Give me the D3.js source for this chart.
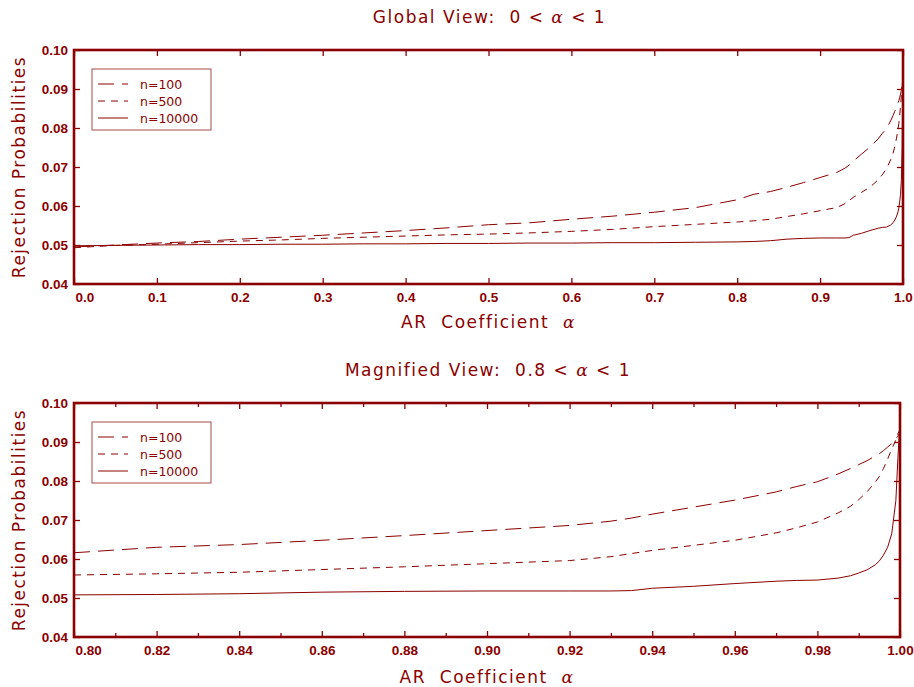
<!DOCTYPE html>
<html>
<head>
<meta charset="utf-8">
<script src="https://cdn.jsdelivr.net/npm/d3@7"></script>
<style>
  body { margin: 0; background: #fff; }
  svg { display: block; }
</style>
</head>
<body>
<svg id="chart"></svg>
<script>
// alpha grid (coarse on 0..0.8, fine near 1)
const alphas = [0, 0.05, 0.1, 0.15, 0.2, 0.25, 0.3, 0.35, 0.4, 0.45, 0.5, 0.55, 0.6, 0.65, 0.7, 0.75,
  0.80, 0.82, 0.84, 0.86, 0.88, 0.90, 0.92, 0.93, 0.935, 0.94, 0.95, 0.96, 0.97, 0.975, 0.98, 0.985,
  0.988, 0.99, 0.992, 0.994, 0.995, 0.996, 0.997, 0.998, 0.999, 0.9995, 1.0]

const n100 = [0.0495, 0.0500, 0.0505, 0.0509, 0.0515, 0.0520, 0.0525, 0.0531, 0.0537, 0.0544, 0.0552, 0.0557, 0.0566, 0.0574, 0.0584, 0.0596,
  0.0616, 0.0630, 0.0637, 0.0648, 0.0660, 0.0673, 0.0686, 0.0697, 0.0705, 0.0715, 0.0733, 0.0751, 0.0772, 0.0786, 0.0798, 0.0818,
  0.0832, 0.0842, 0.0852, 0.0864, 0.0870, 0.0878, 0.0887, 0.0896, 0.0908, 0.0915, 0.0925]

const n500 = [0.0493, 0.0499, 0.0502, 0.0506, 0.0510, 0.0513, 0.0517, 0.0520, 0.0523, 0.0526, 0.0528, 0.0531, 0.0535, 0.0540, 0.0547, 0.0553,
  0.0559, 0.0562, 0.0566, 0.0573, 0.0580, 0.0588, 0.0596, 0.0606, 0.0614, 0.0622, 0.0635, 0.0648, 0.0667, 0.0680, 0.0695, 0.0718,
  0.0735, 0.0752, 0.0772, 0.0797, 0.0812, 0.0832, 0.0856, 0.0882, 0.0905, 0.0922, 0.0930]

const n10000 = [0.0498, 0.0499, 0.0500, 0.0501, 0.0501, 0.0502, 0.0502, 0.0503, 0.0503, 0.0504, 0.0504, 0.0505, 0.0505, 0.0506, 0.0506, 0.0507,
  0.0508, 0.0509, 0.0511, 0.0515, 0.0517, 0.0518, 0.0518, 0.0518, 0.0519, 0.0525, 0.0530, 0.0537, 0.0543, 0.0545, 0.0546, 0.0551,
  0.0557, 0.0564, 0.0572, 0.0585, 0.0595, 0.0610, 0.0630, 0.0665, 0.0750, 0.0860, 0.0955]

const seriesNames = ['n=100', 'n=500', 'n=10000']
const seriesValues = [n100, n500, n10000]
const dashes = ['16,8', '7,6', null] // long dash, short dash, solid

const yTicks = [0.04, 0.05, 0.06, 0.07, 0.08, 0.09, 0.10]
const globalTicks = [0, 0.1, 0.2, 0.3, 0.4, 0.5, 0.6, 0.7, 0.8, 0.9, 1.0]
const zoomTicks = [0.80, 0.82, 0.84, 0.86, 0.88, 0.90, 0.92, 0.94, 0.96, 0.98, 1.00]
const zoomMinor = [0.81, 0.83, 0.85, 0.87, 0.89, 0.91, 0.93, 0.95, 0.97, 0.99]

const width = 914
const height = 687
const col = '#8b0000'
const tickFont = 'bold 13.5px "Liberation Sans", Arial, sans-serif'
const labelFont = '17px "DejaVu Sans", sans-serif'

const svg = d3.select('#chart')
    .attr('width', width)
    .attr('height', height)
    .attr('viewBox', [0, 0, width, height])

function panel({ top, bottom, left, right, xDomain, xTicks, xMinor = [], xFormat, titleStart, titleEnd, legendTop, xLabelGap }) {
  const x = d3.scaleLinear(xDomain, [left, right])
  const y = d3.scaleLinear([0.04, 0.10], [bottom, top])
  const g = svg.append('g')

  // axes: inward ticks on all four sides
  const tick = 6
  g.append('g')
      .attr('transform', `translate(0,${bottom})`)
      .call(d3.axisBottom(x).tickValues(xTicks).tickFormat(d3.format(xFormat)).tickSize(-tick).tickSizeOuter(0).tickPadding(8))
      .call(a => a.select('.domain').remove())
      .call(a => a.select('.tick text').attr('text-anchor', 'start').attr('x', 1))
  g.append('g')
      .attr('transform', `translate(0,${top})`)
      .call(d3.axisTop(x).tickValues(xTicks).tickFormat('').tickSize(-tick).tickSizeOuter(0))
      .call(a => a.select('.domain').remove())
  if (xMinor.length) {
    g.append('g')
        .attr('transform', `translate(0,${bottom})`)
        .call(d3.axisBottom(x).tickValues(xMinor).tickFormat('').tickSize(-4).tickSizeOuter(0))
        .call(a => a.select('.domain').remove())
    g.append('g')
        .attr('transform', `translate(0,${top})`)
        .call(d3.axisTop(x).tickValues(xMinor).tickFormat('').tickSize(-4).tickSizeOuter(0))
        .call(a => a.select('.domain').remove())
  }
  g.append('g')
      .attr('transform', `translate(${left},0)`)
      .call(d3.axisLeft(y).tickValues(yTicks).tickFormat(d3.format('.2f')).tickSize(-tick).tickSizeOuter(0).tickPadding(6))
      .call(a => a.select('.domain').remove())
  g.append('g')
      .attr('transform', `translate(${right},0)`)
      .call(d3.axisRight(y).tickValues(yTicks).tickFormat('').tickSize(-tick).tickSizeOuter(0))
      .call(a => a.select('.domain').remove())

  g.selectAll('.tick line').attr('stroke', col).attr('stroke-width', 1.3)
  g.selectAll('.tick text').attr('fill', col).style('font', tickFont)

  // curves
  const clipId = 'clip' + top
  g.append('clipPath').attr('id', clipId)
    .append('rect').attr('x', left).attr('y', top).attr('width', right - left).attr('height', bottom - top)
  const idx = d3.range(alphas.length).filter(i => alphas[i] >= xDomain[0] - 1e-9)
  seriesValues.forEach((vals, s) => {
    const line = d3.line().x(i => x(alphas[i])).y(i => y(vals[i]))
    g.append('path')
        .attr('clip-path', `url(#${clipId})`)
        .attr('fill', 'none')
        .attr('stroke', col)
        .attr('stroke-width', 1)
        .attr('stroke-dasharray', dashes[s])
        .attr('d', line(idx))
  })

  // frame
  g.append('rect')
      .attr('x', left).attr('y', top)
      .attr('width', right - left).attr('height', bottom - top)
      .attr('fill', 'none').attr('stroke', col).attr('stroke-width', 2.6)

  // legend
  const lg = g.append('g').attr('transform', `translate(92,${legendTop})`)
  lg.append('rect').attr('width', 119).attr('height', 61)
      .attr('fill', '#fff').attr('stroke', '#a84a4a').attr('stroke-width', 1)
  seriesNames.forEach((name, s) => {
    const yy = 15 + s * 17
    lg.append('line').attr('x1', 6).attr('x2', 36).attr('y1', yy).attr('y2', yy)
        .attr('stroke', col).attr('stroke-width', 1).attr('stroke-dasharray', dashes[s])
    lg.append('text').attr('x', 48).attr('y', yy + 5)
        .attr('fill', col).style('font', '12.5px "DejaVu Sans", sans-serif')
        .text(name)
  })

  // title
  const t = g.append('text').attr('x', (left + right) / 2 + 1).attr('y', top - 27)
      .attr('text-anchor', 'middle').attr('fill', col)
      .style('font', labelFont).style('letter-spacing', '1.5px').style('white-space', 'pre')
  t.append('tspan').text(titleStart)
  t.append('tspan').attr('font-style', 'italic').attr('font-family', '"DejaVu Serif", serif').text('α')
  t.append('tspan').text(titleEnd)

  // x label
  const xl = g.append('text').attr('x', (left + right) / 2).attr('y', bottom + xLabelGap)
      .attr('text-anchor', 'middle').attr('fill', col)
      .style('font', labelFont).style('letter-spacing', '1.5px').style('white-space', 'pre')
  xl.append('tspan').text('AR  Coefficient  ')
  xl.append('tspan').attr('font-style', 'italic').attr('font-family', '"DejaVu Serif", serif').text('α')

  // y label
  g.append('text')
      .attr('transform', `translate(25,${(top + bottom) / 2}) rotate(-90)`)
      .attr('text-anchor', 'middle').attr('fill', col)
      .style('font', labelFont).style('letter-spacing', '1.5px')
      .text('Rejection Probabilities')
}

panel({ top: 50, bottom: 284, left: 74, right: 903, xDomain: [0, 1], xTicks: globalTicks, xFormat: '.1f',
  titleStart: 'Global View:  0 < ', titleEnd: ' < 1', legendTop: 69, xLabelGap: 44 })
panel({ top: 403, bottom: 637, left: 74, right: 900, xDomain: [0.8, 1], xTicks: zoomTicks, xMinor: zoomMinor, xFormat: '.2f',
  titleStart: 'Magnified View:  0.8 < ', titleEnd: ' < 1', legendTop: 422, xLabelGap: 46 })
</script>
</body>
</html>
